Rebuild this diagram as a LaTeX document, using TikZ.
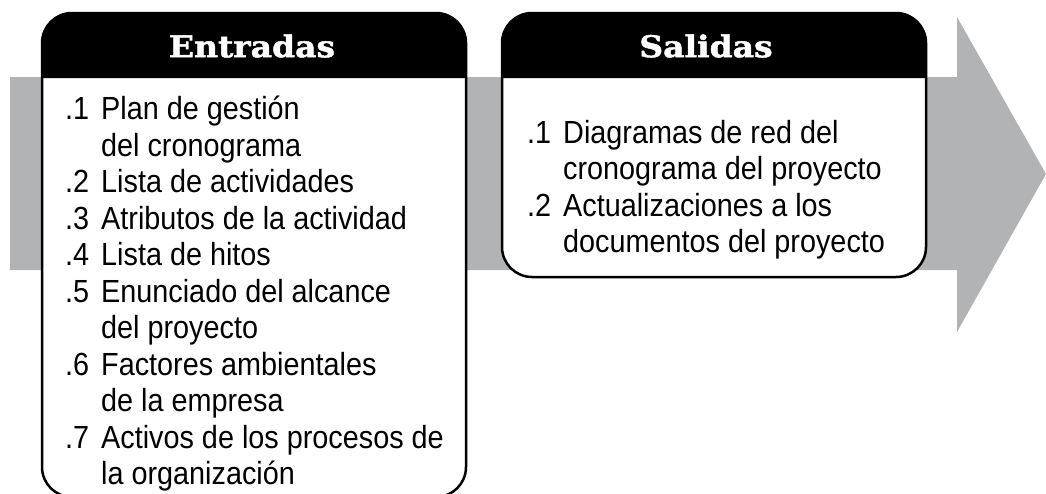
\documentclass[tikz,border=0pt]{standalone}
\usepackage{fontspec}
\newfontfamily\bodyfont[FakeStretch=0.9]{Liberation Sans}
\newfontfamily\headfont[FakeStretch=1.1, FakeBold=1.5]{DejaVu Serif}
\usetikzlibrary{positioning}
\definecolor{flowgray}{HTML}{B1B3B5}
\newcommand{\itemno}[1]{\makebox[36pt][l]{#1}}
\newcommand{\itemin}{\hspace*{36pt}}

\begin{document}
\begin{tikzpicture}[
          x=1pt, y=-1pt,
          every node/.style={inner sep=0pt},
          boxline/.style={draw=black, line width=2.5pt},
          headtext/.style={font=\headfont\bfseries\fontsize{30}{30}\selectfont, text=white},
          listtext/.style={font=\bodyfont\fontsize{32}{36.5}\selectfont, align=left, anchor=north west},
        ]
        \useasboundingbox (0,0) rectangle (1046,493);
        % Process arrow in the background
        \fill[flowgray] (10,77) -- (957,77) -- (957,17) -- (1046,174) -- (957,332) -- (957,270) -- (10,270) -- cycle;

        % Inputs box
        \fill[white, rounded corners=30pt] (42,13) rectangle (466,497);
        \fill[black] (42,78) [rounded corners=30pt] -- (42,13) -- (466,13) [sharp corners] -- (466,78) -- cycle;
        \draw[boxline, rounded corners=30pt] (42,13) rectangle (466,497);

        % Outputs box
        \fill[white, rounded corners=30pt] (502,13) rectangle (926,277);
        \fill[black] (502,78) [rounded corners=30pt] -- (502,13) -- (926,13) [sharp corners] -- (926,78) -- cycle;
        \draw[boxline, rounded corners=30pt] (502,13) rectangle (926,277);

        % Titles
        \node[headtext] (inhead) at (252,46) {Entradas};
        \node[headtext] (outhead) at (706,46) {Salidas};

        % Lists
        \node[listtext] (inlist) at (65,96) {%
          \itemno{.1}Plan de gestión\\
          \itemin del cronograma\\
          \itemno{.2}Lista de actividades\\
          \itemno{.3}Atributos de la actividad\\
          \itemno{.4}Lista de hitos\\
          \itemno{.5}Enunciado del alcance\\
          \itemin del proyecto\\
          \itemno{.6}Factores ambientales\\
          \itemin de la empresa\\
          \itemno{.7}Activos de los procesos de\\
          \itemin la organización};
        \node[listtext] (outlist) at (527,120) {%
          \itemno{.1}Diagramas de red del\\
          \itemin cronograma del proyecto\\
          \itemno{.2}Actualizaciones a los\\
          \itemin documentos del proyecto};
      \end{tikzpicture}
\end{document}
